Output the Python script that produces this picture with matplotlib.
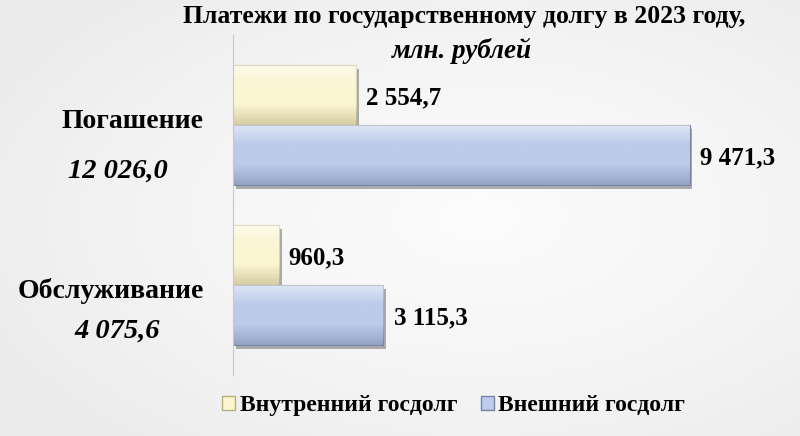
import numpy as np
import matplotlib.pyplot as plt
import matplotlib.patheffects as pe
from matplotlib.colors import LinearSegmentedColormap

SERIF = "Liberation Serif"
plt.rcParams['font.family'] = SERIF

categories = ["Погашение", "Обслуживание"]
totals = ["12 026,0", "4 075,6"]
internal = [2554.7, 960.3]
external = [9471.3, 3115.3]
internal_labels = ["2 554,7", "960,3"]
external_labels = ["9 471,3", "3 115,3"]
series_names = ["Внутренний госдолг", "Внешний госдолг"]

fig = plt.figure(figsize=(8, 4.36), dpi=100)

# background: soft gray vignette
bg = fig.add_axes([0, 0, 1, 1], zorder=-10)
yy, xx = np.mgrid[0:1:200j, 0:1:300j]
r = np.sqrt(((xx - 0.6) / 0.8) ** 2 + ((yy - 0.5) / 0.8) ** 2)
bg.imshow(r, cmap=LinearSegmentedColormap.from_list("bgc", ["#fcfcfc", "#f5f5f5", "#ebebeb"]),
          extent=[0, 1, 0, 1], aspect="auto", vmin=0, vmax=0.9)
bg.axis("off")

ax = fig.add_axes([0.291, 0.14, 0.696, 0.78])
ax.patch.set_alpha(0)

y = np.arange(len(categories))
h = 0.375
fills = ["#fbf5d2", "#bccbea"]
edges = ["#b8ae80", "#7585a8"]
for vals, off, fc, ec in [(internal, -h / 2, fills[0], edges[0]),
                          (external, h / 2, fills[1], edges[1])]:
    bars = ax.barh(y + off, vals, height=h, color=fc, edgecolor=ec, linewidth=0.8)
    for b in bars:
        b.set_path_effects([pe.SimplePatchShadow(offset=(2, -3), shadow_rgbFace="#606060", alpha=0.5),
                            pe.Normal()])
        # vertical shading inside each bar
        x0, y0 = b.get_x(), b.get_y()
        w, hh = b.get_width(), b.get_height()
        grad = np.linspace(0, 1, 50).reshape(-1, 1)
        cm = LinearSegmentedColormap.from_list("g", ["#ffffff", fc, fc, ec])
        im = ax.imshow(grad, cmap=cm, extent=[x0, x0 + w, y0 + hh, y0], aspect="auto",
                       alpha=0.55, zorder=b.get_zorder() + 0.1)
        im.set_clip_path(b)

for i in range(len(categories)):
    ax.text(internal[i] + 200, y[i] - h / 2 + 0.02, internal_labels[i], ha="left", va="center",
            fontsize=18, fontweight="bold", family=SERIF)
    ax.text(external[i] + 220, y[i] + h / 2 + 0.02, external_labels[i], ha="left", va="center",
            fontsize=18, fontweight="bold", family=SERIF)

tr = ax.get_yaxis_transform()
name_y = [-0.02, 0.04]
for i in range(len(categories)):
    ax.text(-0.052, y[i] + name_y[i], categories[i], transform=tr, ha="right", va="center",
            fontsize=20, fontweight="bold", family=SERIF)
    ax.text(-0.207, y[i] + 0.29, totals[i], transform=tr, ha="center", va="center",
            fontsize=20.5, fontweight="bold", style="italic", family=SERIF)

ax.set_xlim(0, 11544)
ax.set_ylim(1.5625, -0.5625)
ax.set_xticks([])
ax.set_yticks([])
for s in ["top", "right", "bottom"]:
    ax.spines[s].set_visible(False)
ax.spines["left"].set_color("#c8c8c8")
ax.spines["left"].set_linewidth(0.8)

fig.text(0.58, 0.962, "Платежи по государственному долгу в 2023 году,", ha="center", va="center",
         fontsize=18.5, fontweight="bold", family=SERIF)
fig.text(0.578, 0.883, "млн. рублей", ha="center", va="center",
         fontsize=19.5, fontweight="bold", style="italic", family=SERIF)

handles = [plt.Rectangle((0, 0), 1, 1, facecolor=fc, edgecolor=ec) for fc, ec in zip(fills, edges)]
fig.legend(handles, series_names, loc="center", bbox_to_anchor=(0.567, 0.07), ncol=2, frameon=False,
           prop={"size": 17, "weight": "bold", "family": SERIF}, handlelength=0.55, handleheight=0.55,
           handletextpad=0.2, columnspacing=1.0)

fig.savefig("out.png", dpi=100)
